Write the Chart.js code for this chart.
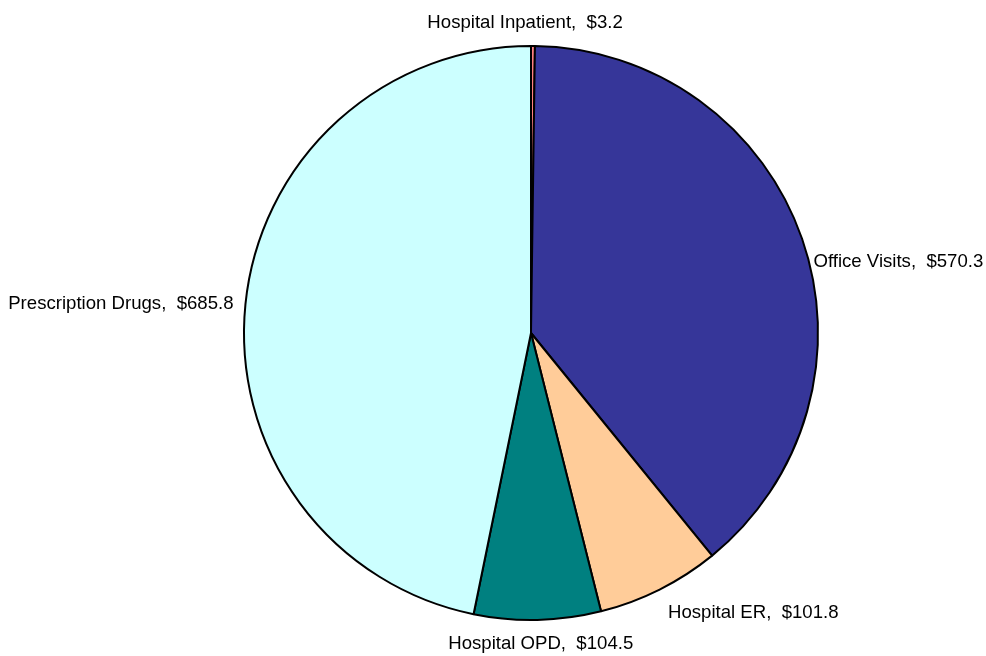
<!DOCTYPE html>
<html>
<head>
<meta charset="utf-8">
<script src="https://cdn.jsdelivr.net/npm/chart.js@4"></script>
<style>
html,body{margin:0;padding:0;background:#fff;}
#wrap{width:986px;height:656px;position:relative;}
</style>
</head>
<body>
<div id="wrap"><canvas id="c" width="986" height="656"></canvas></div>
<script>
const categories = ["Hospital Inpatient", "Office Visits", "Hospital ER", "Hospital OPD", "Prescription Drugs"];
const values = [3.2, 570.3, 101.8, 104.5, 685.8];
const colors = ["#FF8080", "#363699", "#FFCC99", "#008080", "#CCFFFF"];

const labelPlugin = {
  id: 'sliceLabels',
  afterDatasetsDraw(chart, args, opts) {
    const ctx = chart.ctx;
    const meta = chart.getDatasetMeta(0);
    ctx.save();
    ctx.font = '18.6px "Liberation Sans", Arial, sans-serif';
    ctx.fillStyle = '#000';
    ctx.textBaseline = 'middle';
    meta.data.forEach((arc, i) => {
      const p = arc.getProps(['x','y','startAngle','endAngle','outerRadius'], true);
      const mid = (p.startAngle + p.endAngle) / 2;
      const r = p.outerRadius + 12;
      const cx = Math.cos(mid), sy = Math.sin(mid);
      let px = p.x + cx * r;
      let py = p.y + sy * r;
      let align = 'center';
      if (cx > 0.3) align = 'left';
      else if (cx < -0.3) align = 'right';
      py += sy * 10;
      const nudge = opts.nudges[i] || [0,0];
      px += nudge[0]; py += nudge[1];
      ctx.textAlign = align;
      const txt = categories[i] + ',  $' + values[i].toFixed(1);
      ctx.fillText(txt, px, py);
    });
    ctx.restore();
  }
};

new Chart(document.getElementById('c'), {
  type: 'pie',
  data: {
    labels: categories,
    datasets: [{
      data: values,
      backgroundColor: colors,
      borderColor: '#000',
      borderWidth: 2
    }]
  },
  options: {
    responsive: false,
    animation: false,
    layout: { padding: { left: 243, right: 167, top: 45, bottom: 35 } },
    plugins: {
      legend: { display: false },
      tooltip: { enabled: false },
      sliceLabels: { nudges: [[-8, -1], [0, 30], [3, 4], [3, 2], [0, 2]] }
    }
  },
  plugins: [labelPlugin]
});
</script>
</body>
</html>
